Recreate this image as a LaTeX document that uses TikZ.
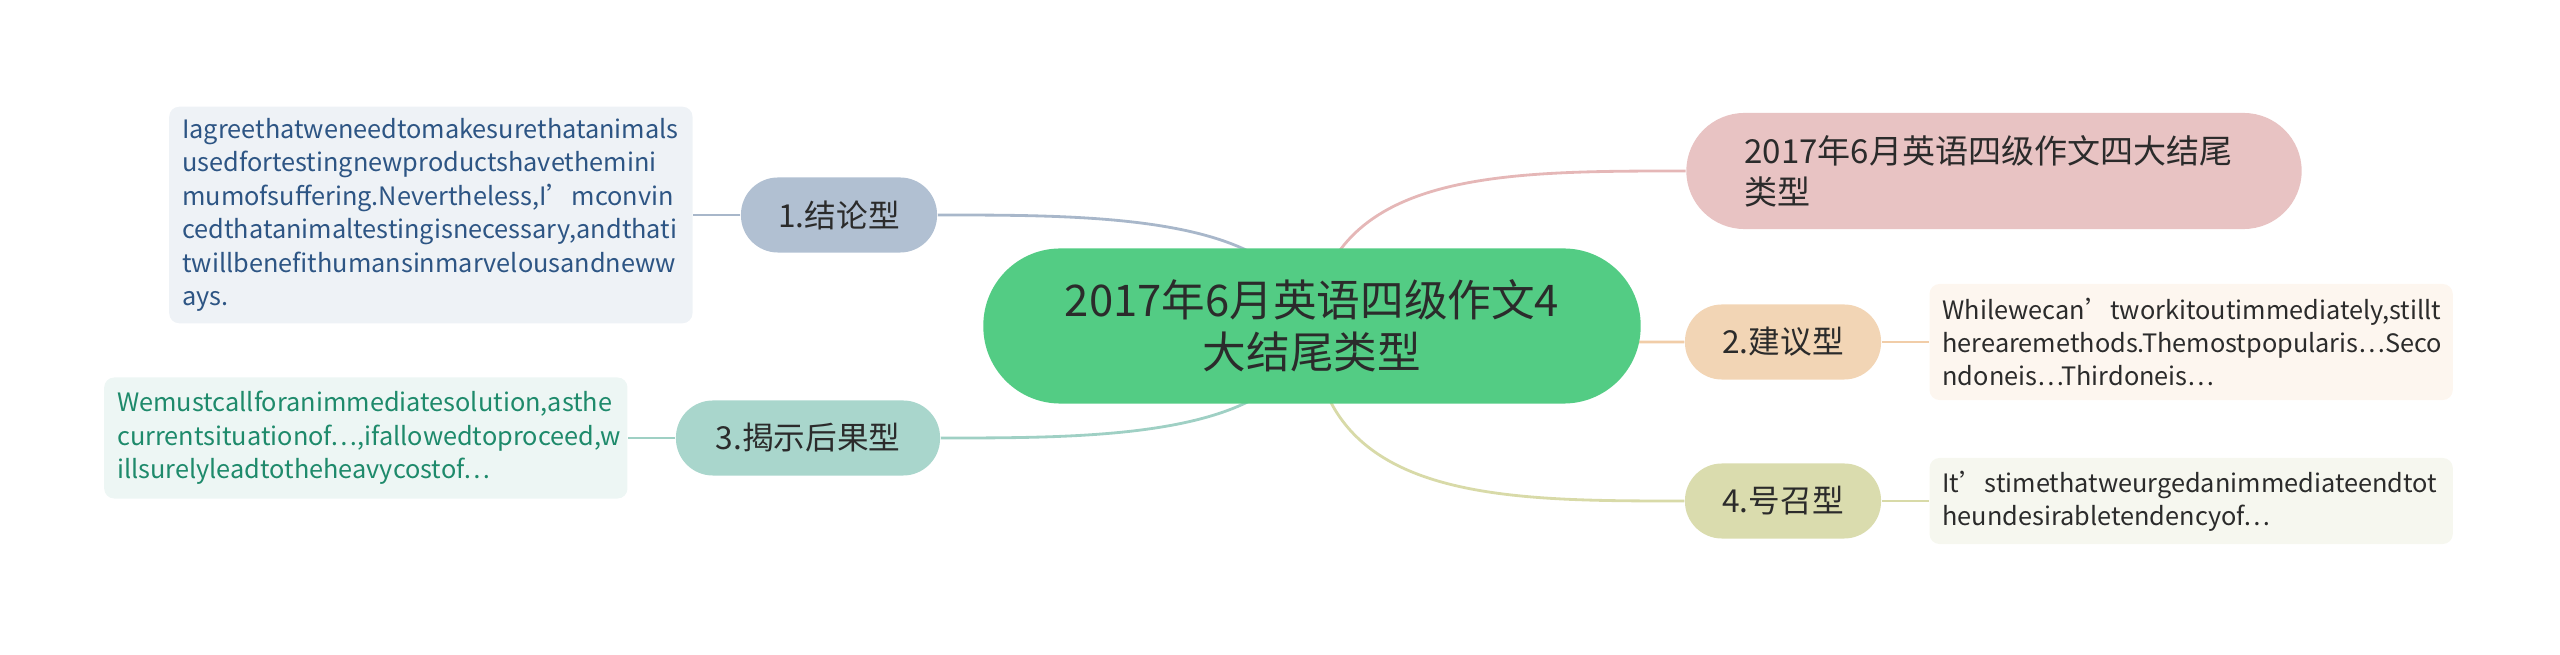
\documentclass[tikz,border=0pt]{standalone}
\usepackage{fontspec}
\setmainfont{Noto Sans CJK SC}
\usepackage{tikz}
\usetikzlibrary{positioning,backgrounds}

\definecolor{rootgreen}{HTML}{53CC84}
\definecolor{inkdark}{HTML}{2B2B2B}
\definecolor{blueTopic}{HTML}{B1C0D2}
\definecolor{blueNote}{HTML}{EEF2F6}
\definecolor{blueInk}{HTML}{2D5584}
\definecolor{blueLink}{HTML}{A8B7CA}
\definecolor{tealTopic}{HTML}{A9D6CC}
\definecolor{tealNote}{HTML}{EDF6F4}
\definecolor{tealInk}{HTML}{1E8A6B}
\definecolor{tealLink}{HTML}{9FD0C4}
\definecolor{pinkTopic}{HTML}{E8C3C3}
\definecolor{pinkLink}{HTML}{E5B7B7}
\definecolor{peachTopic}{HTML}{F2D5B5}
\definecolor{peachNote}{HTML}{FDF6EF}
\definecolor{peachLink}{HTML}{F1CDA8}
\definecolor{oliveTopic}{HTML}{DADCAE}
\definecolor{oliveNote}{HTML}{F6F7EF}
\definecolor{oliveLink}{HTML}{D8DAA8}

\begin{document}
\begin{tikzpicture}[
    x=0.01cm, y=-0.01cm,
    node distance=0.47cm,
    root/.style={fill=rootgreen, rounded corners=0.77cm, minimum width=6.57cm, minimum height=1.55cm, align=center, text=inkdark, font=\fontsize{12.4}{14.8}\selectfont},
    topic/.style={rounded corners=0.37cm, minimum width=1.96cm, minimum height=0.75cm, inner sep=0pt, text=inkdark, font=\fontsize{9}{11}\selectfont},
    note/.style={rounded corners=0.1cm, text width=4.97cm, inner xsep=0.13cm, align=left, font=\fontsize{7.2}{9.5}\selectfont},
    link/.style={line width=0.8pt},
]
\useasboundingbox (0,0) rectangle (2560,655);

% Central topic
\node[root] (root) at (1312,326) {2017年6月英语四级作文4\\大结尾类型};

% Left branches
\node[topic, fill=blueTopic] (conclude) at (839,215) {1.结论型};
\node[note, fill=blueNote, text=blueInk, minimum height=2.15cm, left=of conclude] (concludenote) {Iagreethatweneedtomakesurethatanimals\\usedfortestingnewproductshavethemini\\mumofsuffering.Nevertheless,I’mconvin\\cedthatanimaltestingisnecessary,andthati\\twillbenefithumansinmarvelousandneww\\ays.};

\node[topic, fill=tealTopic, minimum width=2.64cm] (result) at (808,438) {3.揭示后果型};
\node[note, fill=tealNote, text=tealInk, minimum height=1.21cm, left=of result] (resultnote) {Wemustcallforanimmediatesolution,asthe\\currentsituationof…,ifallowedtoproceed,w\\illsurelyleadtotheheavycostof…};

% Right branches
\node[topic, fill=pinkTopic, rounded corners=0.58cm, minimum width=6.15cm, minimum height=1.16cm, text width=4.99cm, inner xsep=0.58cm, align=left, font=\fontsize{9.4}{11.6}\selectfont] (title) at (1994,171) {2017年6月英语四级作文四大结尾\\类型};

\node[topic, fill=peachTopic] (advise) at (1783,342) {2.建议型};
\node[note, fill=peachNote, text=inkdark, minimum height=1.16cm, right=of advise] (advisenote) {Whilewecan’tworkitoutimmediately,stillt\\herearemethods.Themostpopularis…Seco\\ndoneis…Thirdoneis…};

\node[topic, fill=oliveTopic] (appeal) at (1783,501) {4.号召型};
\node[note, fill=oliveNote, text=inkdark, minimum height=0.86cm, right=of appeal] (appealnote) {It’stimethatweurgedanimmediateendtot\\heundesirabletendencyof…};

% Links
\begin{scope}[on background layer]
\draw[link, blueLink] (root.center) .. controls +(-22,-111) and +(163,0) .. (conclude.east);
\draw[link, tealLink] (root.center) .. controls +(-22,112) and +(160,0) .. (result.east);
\draw[link, pinkLink] (root.center) .. controls +(18,-155) and +(-187,0) .. (title.west);
\draw[link, peachLink] (root.center) .. controls +(90,16) and +(-85,0) .. (advise.west);
\draw[link, oliveLink] (root.center) .. controls +(8,175) and +(-185,0) .. (appeal.west);
\end{scope}
\draw[link, blueLink] (conclude) -- (concludenote);
\draw[link, tealLink] (result) -- (resultnote);
\draw[link, peachLink] (advise) -- (advisenote);
\draw[link, oliveLink] (appeal) -- (appealnote);

\end{tikzpicture}
\end{document}
